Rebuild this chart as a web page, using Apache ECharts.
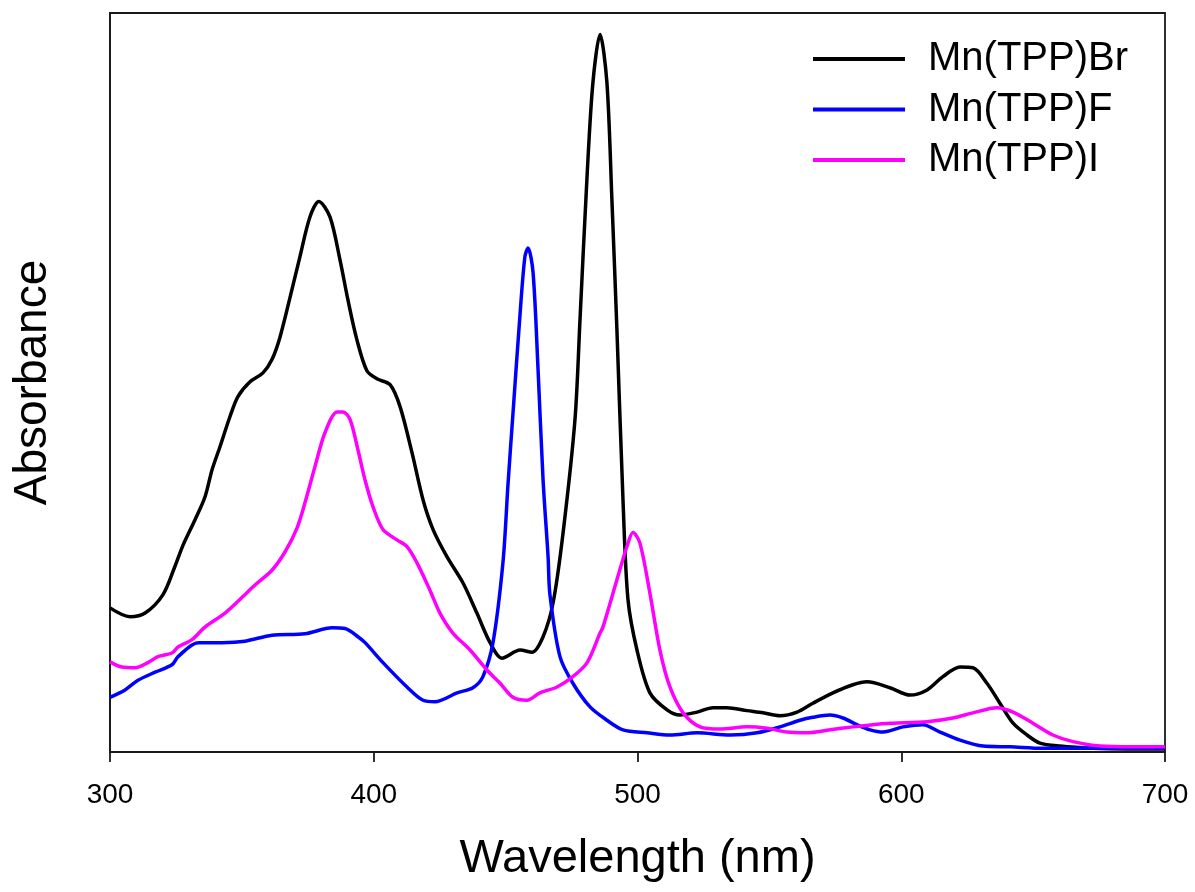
<!DOCTYPE html>
<html>
<head>
<meta charset="utf-8">
<script src="https://cdn.jsdelivr.net/npm/echarts@6/dist/echarts.min.js"></script>
<style>
html,body{margin:0;padding:0;background:#fff;}
#chart{width:1195px;height:892px;}
</style>
</head>
<body>
<div id="chart"></div>
<script>
// X axis ticks (nm)
const xTicks = [300, 400, 500, 600, 700];

// Mn(TPP)Br
const brWl  = [300.0,307.6,313.3,320.1,324.6,327.7,332.2,336.0,338.7,341.7,345.5,348.5,353.1,358.0,361.4,364.5,369.0,372.0,375.8,379.2,383.4,387.2,390.2,393.6,397.4,401.2,406.2,410.0,414.5,418.7,422.5,427.8,433.8,439.1,444.1,448.6,455.5,460.0,464.2,468.0,471.8,476.3,478.2,480.9,483.1,485.8,488.4,490.3,492.2,494.5,496.4,499.8,504.7,511.2,516.1,522.6,528.6,533.9,541.5,547.6,554.0,560.5,566.5,574.1,581.7,587.0,595.7,603.3,609.8,615.8,622.3,627.2,632.5,637.4,642.4,647.7,652.6,660.2,672.7,685.6,700.0];
const brAbs = [0.195,0.183,0.188,0.213,0.251,0.280,0.314,0.345,0.382,0.413,0.454,0.481,0.501,0.513,0.531,0.562,0.626,0.670,0.724,0.745,0.724,0.666,0.612,0.558,0.516,0.505,0.497,0.467,0.405,0.341,0.301,0.264,0.229,0.188,0.148,0.127,0.138,0.135,0.156,0.202,0.297,0.450,0.585,0.781,0.906,0.971,0.906,0.747,0.571,0.341,0.206,0.138,0.080,0.057,0.050,0.054,0.060,0.060,0.056,0.053,0.049,0.054,0.066,0.080,0.091,0.095,0.087,0.077,0.084,0.102,0.115,0.114,0.093,0.066,0.039,0.023,0.012,0.008,0.005,0.004,0.004];

// Mn(TPP)F
const fWl  = [300.0,305.7,310.6,317.1,323.5,325.8,333.4,342.5,351.2,361.4,373.9,384.2,389.1,394.0,396.7,403.5,412.6,418.7,423.2,431.6,437.6,441.4,445.2,449.0,450.9,452.8,455.5,457.3,458.5,460.4,462.3,464.2,466.1,466.8,470.6,475.5,482.0,488.4,494.5,503.6,512.3,522.6,535.1,545.3,554.0,561.6,566.5,573.0,577.9,583.2,588.2,593.1,600.7,608.2,614.7,622.3,631.0,641.2,653.7,672.7,700.0];
const fAbs = [0.074,0.084,0.097,0.108,0.118,0.129,0.148,0.148,0.150,0.158,0.160,0.168,0.167,0.156,0.148,0.121,0.088,0.070,0.068,0.080,0.087,0.102,0.148,0.257,0.362,0.459,0.594,0.670,0.682,0.649,0.517,0.368,0.264,0.213,0.129,0.093,0.061,0.043,0.030,0.026,0.023,0.026,0.023,0.026,0.034,0.043,0.047,0.050,0.046,0.037,0.030,0.027,0.034,0.037,0.027,0.016,0.008,0.007,0.005,0.005,0.005];

// Mn(TPP)I
const iWl  = [300.0,304.5,309.5,314.4,318.2,323.5,325.8,331.1,336.0,343.6,350.0,355.0,361.4,366.4,370.9,373.9,377.7,381.5,386.1,388.3,391.0,394.0,396.7,399.7,403.5,408.8,412.6,416.4,421.3,425.1,430.0,436.5,442.9,447.9,452.8,458.1,463.0,469.5,475.5,480.9,485.8,486.9,492.2,496.0,498.3,500.9,504.7,508.5,512.3,517.3,523.7,531.3,541.5,549.1,556.7,564.3,573.0,581.7,591.9,596.9,609.8,619.6,627.2,636.3,642.4,649.9,657.5,665.1,675.4,687.9,700.0];
const iAbs = [0.122,0.115,0.114,0.121,0.129,0.134,0.142,0.152,0.169,0.188,0.209,0.226,0.246,0.271,0.303,0.337,0.386,0.432,0.460,0.460,0.450,0.409,0.368,0.332,0.301,0.287,0.278,0.256,0.219,0.188,0.161,0.138,0.111,0.093,0.074,0.070,0.080,0.088,0.102,0.121,0.161,0.169,0.233,0.278,0.297,0.283,0.215,0.138,0.088,0.053,0.034,0.031,0.034,0.032,0.027,0.026,0.030,0.034,0.038,0.039,0.041,0.046,0.053,0.060,0.054,0.039,0.023,0.014,0.008,0.007,0.007];

const seriesNames = ['Mn(TPP)Br', 'Mn(TPP)F', 'Mn(TPP)I'];
const seriesColors = ['#000000', '#0000ff', '#ff00ff'];

function pairs(xs, ys) { return xs.map((x, i) => [x, ys[i]]); }
const seriesData = [pairs(brWl, brAbs), pairs(fWl, fAbs), pairs(iWl, iAbs)];

const FONT = '"Liberation Sans", Arial, sans-serif';
const chart = echarts.init(document.getElementById('chart'), null, {renderer: 'canvas'});
chart.setOption({
  animation: false,
  backgroundColor: '#ffffff',
  grid: {
    left: 110, right: 30, top: 13, bottom: 140,
    containLabel: false, outerBoundsMode: 'none',
    show: true, borderColor: '#1a1a1a', borderWidth: 1.8, backgroundColor: 'transparent'
  },
  legend: {
    orient: 'vertical',
    left: 813, top: 39, padding: 0,
    itemWidth: 92, itemHeight: 4, itemGap: 10.5,
    icon: 'rect',
    data: seriesNames,
    textStyle: {fontFamily: FONT, fontSize: 40, color: '#000', lineHeight: 40, padding: [0, 0, 0, 18]}
  },
  xAxis: {
    type: 'value', min: xTicks[0], max: xTicks[xTicks.length - 1], interval: 100,
    name: 'Wavelength (nm)', nameLocation: 'middle', nameGap: 84,
    nameTextStyle: {fontFamily: FONT, fontSize: 47, color: '#000'},
    axisLine: {show: true, lineStyle: {color: '#1a1a1a', width: 1.8}},
    axisTick: {show: true, inside: false, length: 10, lineStyle: {color: '#1a1a1a', width: 1.8}},
    axisLabel: {fontFamily: FONT, fontSize: 28, color: '#000', margin: 29},
    splitLine: {show: false}
  },
  yAxis: {
    type: 'value', min: 0, max: 1,
    name: 'Absorbance', nameLocation: 'middle', nameGap: 54, nameRotate: 90,
    nameTextStyle: {fontFamily: FONT, fontSize: 46, color: '#000'},
    axisLine: {show: true, lineStyle: {color: '#1a1a1a', width: 1.8}},
    axisTick: {show: false},
    axisLabel: {show: false},
    splitLine: {show: false}
  },
  series: seriesNames.map((n, k) => ({
    name: n, type: 'line', data: seriesData[k],
    showSymbol: false, symbol: 'none', smooth: 0.3,
    lineStyle: {color: seriesColors[k], width: 3.5},
    itemStyle: {color: seriesColors[k]}
  }))
});
</script>
</body>
</html>
